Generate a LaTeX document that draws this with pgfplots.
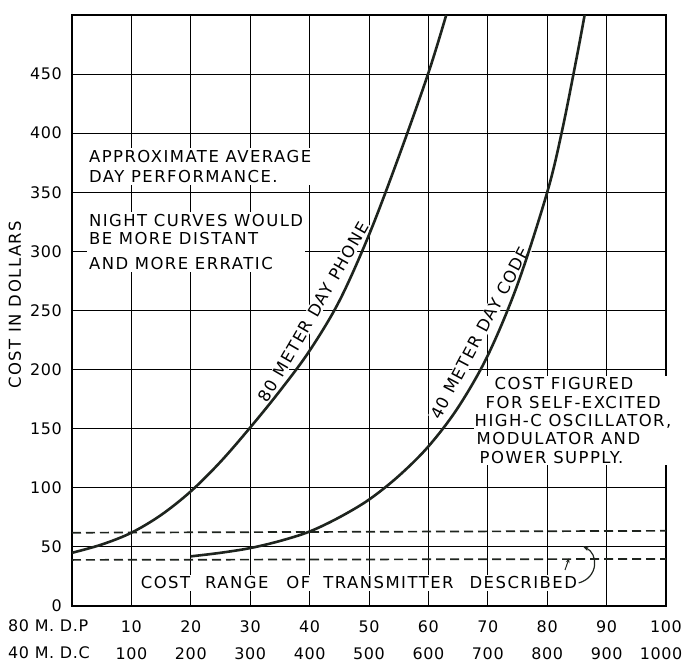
\documentclass[border=0pt]{standalone}
\usepackage{pgfplots}
\pgfplotsset{compat=1.18}
\usetikzlibrary{arrows.meta}
\usepackage{fontspec}
\setmainfont{DejaVu Sans}[LetterSpace=9]
\newfontfamily\tickfont{DejaVu Sans}[LetterSpace=4]
\definecolor{ink}{RGB}{30,36,30}
\begin{document}
\fontsize{16.5}{18.5}\selectfont
\begin{tikzpicture}
\useasboundingbox (-72bp,-57bp) rectangle (612bp,606bp);
\begin{axis}[
  at={(0,0)}, anchor=south west,
  scale only axis, width=594bp, height=591bp,
  xmin=0, xmax=100, ymin=0, ymax=500,
  xtick={10,20,...,100},
  xticklabels={{10\\[10bp]100},{20\\[10bp]200},{30\\[10bp]300},{40\\[10bp]400},{50\\[10bp]500},{60\\[10bp]600},{70\\[10bp]700},{80\\[10bp]800},{90\\[10bp]900},{100\\[10bp]1000\hspace*{10bp}}},
  ytick={0,50,...,450},
  grid=major,
  major grid style={line width=1bp, black},
  major tick length=0pt,
  axis line style={line width=2.6bp, black},
  tick label style={font=\tickfont\fontsize{16}{18}\selectfont, text=black},
  /pgf/number format/assume math mode=true,
  xticklabel style={align=center, anchor=north, inner sep=0pt, yshift=-14bp},
  yticklabel style={anchor=east, inner sep=0pt, xshift=-10bp},
  ylabel={COST IN DOLLARS},
  ylabel style={at={(axis description cs:-0.096,0.51)}, anchor=center, font=\fontsize{16.5}{18}\selectfont},
  clip=false,
]
% cost range of transmitter described
\addplot[ink, line width=1.7bp, dash pattern=on 9bp off 5bp] coordinates {(0,62) (100,63.6)};
\addplot[ink, line width=1.7bp, dash pattern=on 9bp off 5bp] coordinates {(0,39) (100,39.8)};

\node[anchor=west, align=left, fill=white, inner sep=2bp] at (axis cs:2.5,371.8)
  {APPROXIMATE AVERAGE\\[1.5bp]DAY PERFORMANCE.};
\node[anchor=west, align=left, fill=white, inner sep=2bp] at (axis cs:2.5,308)
  {NIGHT CURVES WOULD\\BE MORE DISTANT\\[6.5bp]AND MORE ERRATIC};
\node[anchor=west, align=left, fill=white, inner sep=1bp] at (axis cs:67.6,156.9)
  {\hspace*{20bp}COST FIGURED\\\hspace*{11bp}FOR SELF-EXCITED\\HIGH-C OSCILLATOR,\\\hspace*{2bp}MODULATOR AND\\\hspace*{5bp}POWER SUPPLY.};
\node[fill=white, inner sep=2bp] at (axis cs:48.3,19.5)
  {COST\hspace{15bp}RANGE\hspace{18bp}OF\hspace{13bp}TRANSMITTER\hspace{16bp}DESCRIBED};
\node[rotate=60, fill=white, inner sep=1bp] at (axis cs:40.7,248.7) {80 METER DAY PHONE};
\node[rotate=62, fill=white, inner sep=1bp] at (axis cs:68.7,231) {40 METER DAY CODE};

\draw[ink, line width=1.2bp, -{Stealth[length=6bp]}] (axis cs:85.3,19.5) .. controls (axis cs:88.6,24) and (axis cs:88.7,44) .. (axis cs:86.0,50.5);
\draw[ink, line width=1bp, -{Stealth[length=5bp]}] (axis cs:83.0,30.5) -- (axis cs:83.7,40.6);

% 80 meter day phone
\addplot[ink, line width=2.6bp, smooth, tension=0.55] coordinates {
  (0,45) (5,52) (10,62) (15,77) (20,97) (25,122) (30,151) (35,182) (40,216)
  (45,258) (50,314) (55,380) (60,451) (63,500)};
% 40 meter day code
\addplot[ink, line width=2.6bp, smooth, tension=0.55] coordinates {
  (20,42) (25,45) (30,49) (35,55) (40,63) (45,75) (50,90) (55,110) (60,135)
  (65,168) (70,212) (75,272) (80,350) (82.5,402) (85,465) (86.3,500)};

\node[anchor=west, inner sep=0pt, font=\tickfont\fontsize{16}{18}\selectfont] at (axis cs:0,0) [xshift=-64bp, yshift=-20bp] {80 M.\ D.P};
\node[anchor=west, inner sep=0pt, font=\tickfont\fontsize{16}{18}\selectfont] at (axis cs:0,0) [xshift=-64bp, yshift=-47bp] {40 M.\ D.C};
\end{axis}
\end{tikzpicture}
\end{document}
